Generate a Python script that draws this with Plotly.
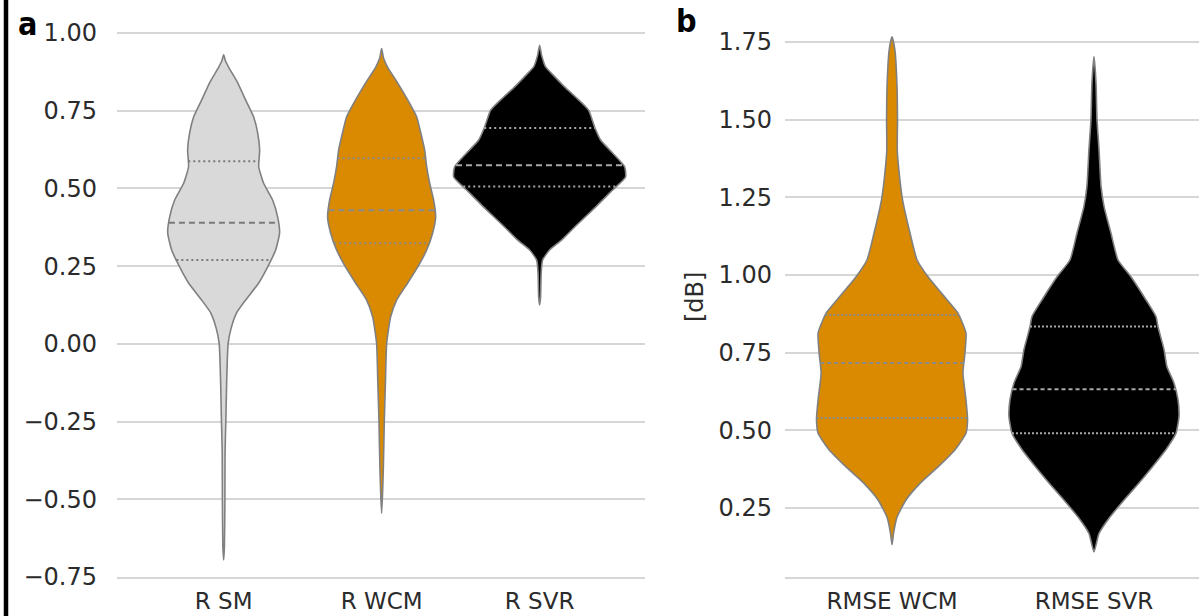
import numpy as np
import plotly.graph_objects as go

# ---------------- data ----------------
# Panel a: correlation R
cats_a = ["R SM", "R WCM", "R SVR"]

sm_y = [-0.695, -0.65, -0.5, -0.35, -0.245, -0.126, 0.0, 0.05, 0.10, 0.141, 0.196, 0.247,
        0.302, 0.357, 0.408, 0.463, 0.517, 0.57, 0.624, 0.68, 0.73, 0.785, 0.84, 0.89, 0.91, 0.93]
sm_hw = [0.0, 0.005, 0.008, 0.009, 0.014, 0.019, 0.028, 0.047, 0.082, 0.139, 0.222, 0.278,
         0.329, 0.354, 0.342, 0.310, 0.253, 0.222, 0.228, 0.215, 0.190, 0.139, 0.089, 0.032, 0.012, 0.0]
sm_quart = [0.27, 0.39, 0.588]

wcm_y = [-0.545, -0.48, -0.396, -0.245, -0.126, 0.003, 0.087, 0.141, 0.196, 0.247, 0.302,
         0.357, 0.408, 0.463, 0.517, 0.57, 0.624, 0.68, 0.73, 0.785, 0.84, 0.89, 0.92, 0.95]
wcm_hw = [0.0, 0.006, 0.011, 0.017, 0.024, 0.032, 0.057, 0.095, 0.165, 0.228, 0.285,
          0.323, 0.342, 0.329, 0.304, 0.285, 0.272, 0.247, 0.222, 0.165, 0.101, 0.038, 0.012, 0.0]
wcm_quart = [0.324, 0.43, 0.597]

svr_y = [0.125, 0.15, 0.23, 0.27, 0.302, 0.334, 0.376, 0.44, 0.495, 0.537, 0.57, 0.614,
         0.656, 0.698, 0.752, 0.785, 0.827, 0.86, 0.891, 0.93, 0.961]
svr_hw = [0.0, 0.006, 0.010, 0.019, 0.063, 0.139, 0.222, 0.354, 0.462, 0.544, 0.538, 0.462,
          0.386, 0.348, 0.310, 0.247, 0.158, 0.095, 0.038, 0.012, 0.0]
svr_quart = [0.506, 0.575, 0.695]

# Panel b: RMSE [dB]
cats_b = ["RMSE WCM", "RMSE SVR"]

rw_y = [0.131, 0.17, 0.22, 0.275, 0.33, 0.38, 0.437, 0.49, 0.534, 0.598, 0.684, 0.749, 0.813,
        0.876, 0.92, 0.994, 1.048, 1.135, 1.242, 1.30, 1.40, 1.50, 1.62, 1.725, 1.767]
rw_hw = [0.0, 0.008, 0.025, 0.069, 0.141, 0.225, 0.312, 0.366, 0.374, 0.366, 0.351, 0.361, 0.366,
         0.327, 0.272, 0.178, 0.124, 0.089, 0.052, 0.040, 0.026, 0.027, 0.024, 0.014, 0.0]
rw_quart = [0.539, 0.716, 0.871]

rs_y = [0.108, 0.167, 0.22, 0.275, 0.33, 0.38, 0.437, 0.49, 0.544, 0.598, 0.652, 0.705, 0.759,
        0.833, 0.866, 0.92, 0.994, 1.048, 1.135, 1.22, 1.285, 1.403, 1.50, 1.62, 1.703]
rs_hw = [0.0, 0.025, 0.079, 0.149, 0.223, 0.287, 0.356, 0.406, 0.421, 0.416, 0.396, 0.361, 0.347,
         0.317, 0.307, 0.257, 0.183, 0.119, 0.084, 0.050, 0.035, 0.025, 0.015, 0.010, 0.0]
rs_quart = [0.49, 0.632, 0.834]

ticks_a = [-0.75, -0.5, -0.25, 0.0, 0.25, 0.5, 0.75, 1.0]
ticks_b = [0.25, 0.5, 0.75, 1.0, 1.25, 1.5, 1.75]

# ---------------- styles ----------------
W, H = 1202, 616
TOP, BOT = 25, 39
PH = H - TOP - BOT
GRID = "#d6d6d6"
OUTLINE = "#808080"
TXT = "#2b2b2b"
FONT = "DejaVu Sans"
COL_SM = "#d9d9d9"
COL_WCM = "#d98a00"
COL_SVR = "#000000"
LABEL_FONT = "Liberation Sans Narrow, DejaVu Sans Condensed, sans-serif"


def py(ypx):
    """figure pixel (from top) -> paper coordinate"""
    return (H - BOT - ypx) / PH


fig = go.Figure()


def add_violin(pos, ys, hw, quart, fill, qcol, xa, ya, med_dash, q_dash, qwidth):
    ys = np.asarray(ys, float)
    hw = np.asarray(hw, float)
    xr = pos + hw
    xl = pos - hw
    px = np.concatenate([xr, xl[::-1][1:]])
    pyy = np.concatenate([ys, ys[::-1][1:]])
    fig.add_trace(go.Scatter(
        x=px, y=pyy, mode="lines", fill="toself", fillcolor=fill,
        line=dict(color=OUTLINE, width=1.6, shape="spline", smoothing=0.5),
        xaxis=xa, yaxis=ya, hoverinfo="skip", showlegend=False))
    for k, q in enumerate(quart):
        half = float(np.interp(q, ys, hw))
        dash = med_dash if k == 1 else q_dash
        fig.add_trace(go.Scatter(
            x=[pos - half, pos + half], y=[q, q], mode="lines",
            line=dict(color=qcol, width=qwidth, dash=dash),
            xaxis=xa, yaxis=ya, hoverinfo="skip", showlegend=False))


add_violin(cats_a.index("R SM"), sm_y, sm_hw, sm_quart, COL_SM, "#7a7a7a", "x", "y", "6px,4px", "2px,3px", 2)
add_violin(cats_a.index("R WCM"), wcm_y, wcm_hw, wcm_quart, COL_WCM, "#8a8a8a", "x", "y", "6px,4px", "2px,3px", 2)
add_violin(cats_a.index("R SVR"), svr_y, svr_hw, svr_quart, COL_SVR, "#a8a8a8", "x", "y", "6px,4px", "2px,3px", 2)
add_violin(cats_b.index("RMSE WCM"), rw_y, rw_hw, rw_quart, COL_WCM, "#8a8a8a", "x2", "y2", "4px,3px", "2px,2px", 2)
add_violin(cats_b.index("RMSE SVR"), rs_y, rs_hw, rs_quart, COL_SVR, "#a8a8a8", "x2", "y2", "4px,3px", "2px,2px", 2)

axis_font = dict(family=FONT, size=24, color=TXT)
xfont = dict(family=FONT, size=23, color=TXT)

fig.update_layout(
    width=W, height=H,
    margin=dict(l=0, r=0, t=TOP, b=BOT, autoexpand=False),
    paper_bgcolor="white", plot_bgcolor="white",
    showlegend=False,
    font=dict(family=FONT, color=TXT),
    xaxis=dict(domain=[117 / W, 645 / W], range=[-0.675, 2.667],
               tickmode="array", tickvals=list(range(len(cats_a))), ticktext=cats_a,
               showgrid=False, zeroline=False, showline=True, linecolor=GRID, linewidth=2,
               ticks="", ticklabelstandoff=2, tickfont=xfont, anchor="y",
               automargin=False),
    yaxis=dict(range=[-0.75, 1.026], tickmode="array", tickvals=ticks_a, tickformat=".2f",
               showgrid=True, gridcolor=GRID, gridwidth=2, zeroline=False, showline=False,
               ticks="", ticklabelstandoff=19, tickfont=axis_font, anchor="x",
               automargin=False),
    xaxis2=dict(domain=[785 / W, 1199 / W], range=[-0.53, 1.52],
                tickmode="array", tickvals=list(range(len(cats_b))), ticktext=cats_b,
                showgrid=False, zeroline=False, showline=True, linecolor=GRID, linewidth=2,
                ticks="", ticklabelstandoff=2, tickfont=xfont, anchor="y2",
                automargin=False),
    yaxis2=dict(range=[0.027, 1.805], tickmode="array", tickvals=ticks_b, tickformat=".2f",
                showgrid=True, gridcolor=GRID, gridwidth=2, zeroline=False, showline=False,
                ticks="", ticklabelstandoff=12, tickfont=axis_font, anchor="x2",
                automargin=False),
    annotations=[
        dict(text="<b>a</b>", x=27 / W, y=py(24), xref="paper", yref="paper",
             xanchor="center", yanchor="middle", showarrow=False,
             font=dict(family=LABEL_FONT, size=32, color="black")),
        dict(text="<b>b</b>", x=686 / W, y=py(21), xref="paper", yref="paper",
             xanchor="center", yanchor="middle", showarrow=False,
             font=dict(family=LABEL_FONT, size=32, color="black")),
        dict(text="[dB]", x=695 / W, y=py(297), xref="paper", yref="paper",
             xanchor="center", yanchor="middle", textangle=-90, showarrow=False,
             font=dict(family=FONT, size=24, color=TXT)),
    ],
    shapes=[
        dict(type="line", xref="paper", yref="paper", x0=6 / W, x1=6 / W,
             y0=py(H), y1=py(0), line=dict(color="black", width=4.5)),
    ],
)

fig.write_html(
    "out.html",
    config={"displayModeBar": False, "staticPlot": True},
    post_script="document.body.style.margin='0';document.body.style.padding='0';"
                "document.body.style.overflow='hidden';",
)
